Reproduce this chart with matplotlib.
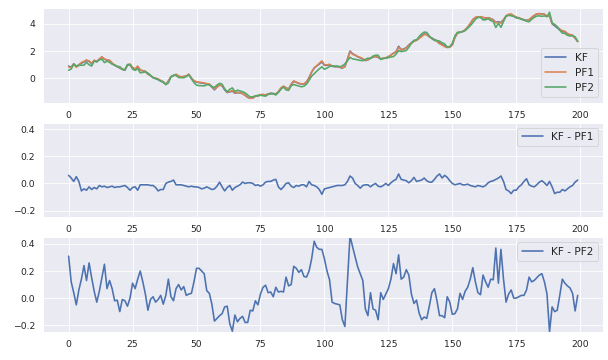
import numpy as np
import matplotlib
matplotlib.use("Agg")
import matplotlib.pyplot as plt
import seaborn as sns

# KF estimate
kf = [
    0.9, 0.8, 1.07, 0.85, 1.0, 1.1, 1.2, 1.3, 1.25, 1.05,
    1.3, 1.2, 1.4, 1.55, 1.4, 1.32, 1.3, 1.1, 0.95, 0.85,
    0.75, 0.65, 0.6, 0.95, 1.0, 0.78, 0.65, 0.85, 0.6, 0.55,
    0.5, 0.3, 0.2, 0.05, -0.03, -0.1, -0.2, -0.3, -0.45, -0.2,
    0.12, 0.2, 0.28, 0.15, 0.1, 0.12, 0.15, 0.28, 0.0, -0.2,
    -0.28, -0.32, -0.35, -0.38, -0.42, -0.45, -0.65, -0.85, -0.65, -0.5,
    -0.55, -0.85, -1.05, -1.0, -0.95, -1.1, -1.05, -1.08, -1.12, -1.25,
    -1.4, -1.47, -1.45, -1.32, -1.3, -1.22, -1.2, -1.22, -1.15, -1.1,
    -1.12, -1.15, -1.0, -0.75, -0.6, -0.7, -0.8, -0.45, -0.22, -0.3,
    -0.38, -0.42, -0.42, -0.28, 0.05, 0.45, 0.75, 0.9, 1.05, 1.2,
    0.95, 0.95, 1.0, 0.88, 0.85, 0.85, 0.8, 0.75, 0.85, 1.4,
    2.0, 1.8, 1.7, 1.58, 1.5, 1.42, 1.3, 1.35, 1.48, 1.55,
    1.6, 1.53, 1.42, 1.45, 1.5, 1.58, 1.7, 1.85, 1.95, 2.35,
    2.1, 2.15, 2.25, 2.45, 2.6, 2.75, 2.8, 2.95, 3.1, 3.25,
    3.22, 3.05, 2.95, 2.85, 2.75, 2.6, 2.48, 2.38, 2.3, 2.3,
    2.45, 3.0, 3.3, 3.4, 3.42, 3.55, 3.75, 4.0, 4.3, 4.45,
    4.5, 4.5, 4.45, 4.42, 4.45, 4.38, 4.3, 4.1, 4.15, 4.1,
    4.3, 4.55, 4.65, 4.65, 4.55, 4.45, 4.42, 4.35, 4.3, 4.25,
    4.3, 4.45, 4.6, 4.72, 4.75, 4.73, 4.7, 4.55, 4.6, 4.0,
    3.85, 3.7, 3.55, 3.45, 3.4, 3.25, 3.18, 3.15, 2.95, 2.72,
]

# KF - PF1 (middle panel)
kf_pf1 = [
    0.06, 0.04, 0.015, 0.05, 0.015, -0.055, -0.04, -0.05, -0.025, -0.045,
    -0.03, -0.04, -0.015, -0.025, -0.02, -0.03, -0.025, -0.02, -0.03, -0.025,
    -0.025, -0.02, -0.015, -0.03, -0.05, -0.03, -0.025, -0.05, -0.01, -0.01,
    -0.01, -0.01, -0.015, -0.015, -0.03, -0.055, -0.045, -0.045, 0.0, 0.01,
    0.015, 0.025, -0.01, -0.01, -0.01, -0.015, -0.02, -0.025, -0.02, -0.025,
    -0.025, -0.03, -0.04, -0.035, -0.025, -0.035, -0.045, -0.04, -0.02, 0.01,
    -0.025, -0.055, -0.03, -0.015, -0.05, -0.03, -0.02, -0.01, 0.01, 0.0,
    0.005, 0.005, 0.0, -0.015, -0.01, -0.02, -0.01, 0.01, 0.015, 0.015,
    0.025, 0.03, -0.025, -0.045, -0.025, 0.0, 0.005, -0.02, -0.03, -0.015,
    -0.02, -0.01, -0.01, -0.025, 0.015, -0.01, -0.015, -0.025, -0.045, -0.08,
    -0.04, -0.035, -0.03, -0.025, -0.02, -0.015, -0.015, -0.015, -0.01, 0.015,
    0.055, 0.04, 0.0, -0.015, -0.035, -0.015, -0.01, -0.01, -0.025, -0.01,
    0.0, -0.02, -0.025, -0.015, 0.0, -0.015, 0.005, 0.02, 0.03, 0.07,
    0.03, 0.025, 0.02, 0.005, 0.02, 0.045, 0.015, 0.02, 0.025, 0.04,
    0.02, 0.01, 0.01, 0.03, 0.055, 0.07, 0.04, 0.06, 0.045, 0.02,
    0.0, -0.01, -0.005, 0.0, -0.01, -0.01, -0.005, -0.015, -0.02, -0.025,
    -0.015, -0.02, -0.025, -0.015, 0.005, 0.015, 0.02, 0.03, 0.04, 0.055,
    0.015, -0.045, -0.055, -0.075, -0.05, -0.05, -0.025, -0.01, 0.015, 0.035,
    -0.01, -0.02, -0.025, -0.01, 0.01, 0.02, 0.005, -0.015, 0.015, -0.025,
    -0.075, -0.065, -0.065, -0.045, -0.055, -0.04, -0.025, -0.015, 0.01, 0.025,
]

# KF - PF2 (bottom panel)
kf_pf2 = [
    0.31, 0.12, 0.04, -0.05, 0.06, 0.14, 0.24, 0.13, 0.26, 0.15,
    0.05, -0.03, 0.05, 0.15, 0.25, 0.07, 0.13, 0.07, -0.02, -0.015,
    -0.1, -0.01, -0.02, -0.06, 0.0, 0.11, 0.07, 0.14, 0.2, 0.12,
    0.03, -0.09, -0.01, 0.01, -0.03, -0.01, 0.02, -0.045, 0.02, 0.14,
    0.01, -0.02, 0.07, 0.10, 0.06, 0.085, 0.02, 0.03, 0.035, 0.12,
    0.22, 0.22, 0.20, 0.18, 0.055, 0.035, -0.045, -0.17, -0.15, -0.13,
    -0.115, -0.065, -0.06, -0.19, -0.245, -0.125, -0.175, -0.15, -0.135, -0.18,
    -0.18, -0.09, -0.095, -0.02, -0.05, 0.03, 0.08, 0.095, 0.04, 0.045,
    0.01, 0.08, 0.045, 0.05, 0.045, 0.155, 0.09, 0.1, 0.235, 0.22,
    0.19, 0.21, 0.16, 0.155, 0.2, 0.29, 0.42, 0.375, 0.36, 0.36,
    0.29, 0.2, 0.135, -0.03, -0.04, -0.045, -0.05, -0.16, -0.21, 0.12,
    0.46, 0.38, 0.305, 0.23, 0.18, 0.13, -0.08, -0.13, 0.04, -0.08,
    -0.09, -0.16, 0.04, -0.01, 0.03, 0.07, 0.14, 0.255, 0.18, 0.32,
    0.14, 0.155, 0.21, 0.17, 0.03, -0.04, -0.015, -0.11, -0.16, -0.14,
    -0.15, -0.06, 0.04, 0.07, -0.02, -0.13, -0.13, -0.145, 0.01, -0.03,
    -0.12, -0.115, -0.08, 0.035, -0.01, 0.05, 0.08, 0.14, 0.225, 0.12,
    0.04, 0.025, 0.17, 0.12, 0.08, 0.14, 0.135, 0.37, 0.11, 0.36,
    0.14, -0.03, 0.03, 0.06, 0.0, 0.0, 0.01, 0.02, 0.02, 0.06,
    0.155, 0.12, 0.13, 0.15, 0.17, 0.18, 0.12, 0.03, -0.25, -0.065,
    -0.1, -0.09, 0.02, 0.14, 0.11, 0.09, 0.075, 0.035, -0.095, 0.02,
]

kf = np.array(kf)
pf1 = kf - np.array(kf_pf1)
pf2 = kf - np.array(kf_pf2)
t = np.arange(len(kf))

sns.set_theme()
plt.rcParams["lines.linewidth"] = 1.9
plt.rcParams["legend.fontsize"] = 12.5
fig, axes = plt.subplots(3, 1, figsize=(10, 360 / 60.8), dpi=60.8)
fig.subplots_adjust(left=0.071, right=0.992, top=0.978, bottom=0.078, hspace=0.21)

ax = axes[0]
ax.plot(t, kf, label="KF")
ax.plot(t, pf1, label="PF1")
ax.plot(t, pf2, label="PF2")
ax.legend(loc="lower right")

ax = axes[1]
ax.plot(t, kf_pf1, label="KF - PF1")
ax.set_ylim(-0.25, 0.45)
ax.legend(loc="upper right")

ax = axes[2]
ax.plot(t, kf_pf2, label="KF - PF2")
ax.set_ylim(-0.25, 0.45)
ax.legend(loc="upper right")

fig.savefig("out.png", dpi=60.8)
